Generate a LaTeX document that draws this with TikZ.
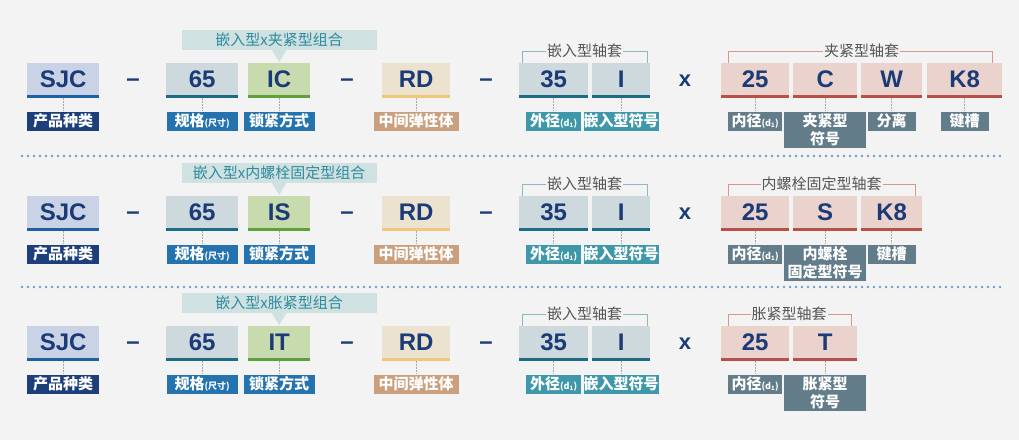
\documentclass[tikz,border=0pt]{standalone}
\usepackage{fontspec}
\setmainfont{Liberation Sans}
\newfontfamily\cjk{Noto Sans CJK SC}
\usetikzlibrary{calc}
\definecolor{bg}{HTML}{F3F3F3}
\definecolor{navy}{HTML}{1B3A78}
\definecolor{sjcfill}{HTML}{C9D3E5}
\definecolor{sjcline}{HTML}{1F5FA6}
\definecolor{specfill}{HTML}{CDD9DC}
\definecolor{specline}{HTML}{1C6C87}
\definecolor{lockfill}{HTML}{C8DBAF}
\definecolor{lockline}{HTML}{5DA03E}
\definecolor{rdfill}{HTML}{ECE2D0}
\definecolor{rdline}{HTML}{F1C879}
\definecolor{shaftfill}{HTML}{E9D3CC}
\definecolor{shaftline}{HTML}{B85048}
\definecolor{labnavy}{HTML}{1C3F7B}
\definecolor{labblue}{HTML}{2472AE}
\definecolor{labtan}{HTML}{C99F7E}
\definecolor{labteal}{HTML}{3E98A9}
\definecolor{labslate}{HTML}{627C89}
\definecolor{combofill}{HTML}{CFE1E1}
\definecolor{combotext}{HTML}{2F8B9E}
\definecolor{brkteal}{HTML}{8DB8C2}
\definecolor{brkpink}{HTML}{D8968C}
\definecolor{brktext}{HTML}{555555}
\definecolor{sepcol}{HTML}{6E9DD0}
\definecolor{conncol}{HTML}{A8A8A8}

\newcommand\sm[1]{{\fontsize{9}{9}\selectfont #1}}
\newcommand\dd{\sm{(d\textsubscript{1})}}

% code box: name, x, top, width, text, colour prefix
\newcommand\cbx[6]{%
  \node[codebox, fill=#6fill, minimum width=#4pt] (#1) at (#2,#3) {#5};
  \fill[#6line] (#1.south west) rectangle ([yshift=-3pt]#1.south east);
}
% label: box name, label name, width, fill, text
\newcommand\lbx[5]{%
  \node[labbox, fill=#4, minimum width=#3pt] (#2) at ([yshift=-16pt]#1.south) {#5};
  \draw[conn] ([yshift=-3pt]#1.south) -- (#2.north);
}
% left part of a row: suffix, top, lock code, combo text
\newcommand\leftrow[4]{%
  \cbx{sjc#1}{27}{#2}{72}{SJC}{sjc}
  \lbx{sjc#1}{lsjc#1}{72}{labnavy}{产品种类}
  \node[sym] (da#1) at (133,#2+20) {–};
  \cbx{sz#1}{166}{#2}{72}{65}{spec}
  \lbx{sz#1}{lsz#1}{71}{labblue}{规格\sm{(尺寸)}}
  \cbx{lk#1}{248}{#2}{62}{#3}{lock}
  \lbx{lk#1}{llk#1}{71}{labblue}{锁紧方式}
  \node[combo] (cb#1) at ([yshift=13pt]lk#1.north) {#4};
  \fill[combofill] ([xshift=-7.5pt,yshift=0.3pt]cb#1.south) -- ([xshift=7.5pt,yshift=0.3pt]cb#1.south) -- ([yshift=-12pt]cb#1.south) -- cycle;
  \node[sym] (db#1) at (347,#2+20) {–};
  \cbx{rd#1}{382}{#2}{68}{RD}{rd}
  \lbx{rd#1}{lrd#1}{85}{labtan}{中间弹性体}
  \node[sym] (dc#1) at (486,#2+20) {–};
  \cbx{od#1}{519}{#2}{69}{35}{spec}
  \lbx{od#1}{lod#1}{55}{labteal}{外径\dd}
  \cbx{ii#1}{592}{#2}{58}{I}{spec}
  \lbx{ii#1}{lii#1}{74}{labteal}{嵌入型符号}
  \draw[brk, brkteal] ([xshift=3pt]od#1.north west) -- ++(0,-12) -| ([xshift=-3pt]ii#1.north east);
  \node[brlab] (bl#1) at ([yshift=12pt]$(od#1.north west)!0.5!(ii#1.north east)$) {嵌入型轴套};
  \node[sym, font=\fontsize{22}{22}\selectfont\bfseries] (xx#1) at (685,#2+18) {x};
  \cbx{id#1}{721}{#2}{68}{25}{shaft}
  \lbx{id#1}{lid#1}{54}{labslate}{内径\dd}
}

\begin{document}
\begin{tikzpicture}[x=1pt,y=-1pt,
  codebox/.style={inner sep=0pt, minimum height=32pt, anchor=north west, text=navy,
    font=\fontsize{24}{24}\selectfont\bfseries},
  labbox/.style={inner xsep=0pt, inner ysep=2pt, minimum height=19pt, anchor=north, text=white,
    align=center, font=\cjk\fontsize{15}{18}\selectfont\bfseries},
  conn/.style={draw=conncol, line width=0.8pt, dash pattern=on 1.5pt off 1.5pt},
  sym/.style={inner sep=0pt, text=navy, font=\fontsize{24}{24}\selectfont\bfseries},
  combo/.style={fill=combofill, text=combotext, anchor=south, minimum width=195pt, minimum height=20pt,
    inner sep=0pt, font=\cjk\fontsize{15}{15}\selectfont},
  brk/.style={line width=1pt},
  brlab/.style={fill=bg, text=brktext, inner xsep=1pt, inner ysep=0pt, font=\cjk\fontsize{15}{15}\selectfont},
  sep/.style={draw=sepcol, line width=2.6pt, line cap=round, dash pattern=on 0pt off 6pt}]
\fill[bg] (0,0) rectangle (1019,440);
\useasboundingbox (0,0) rectangle (1019,440);

% separators
\draw[sep] (22,156) -- (1000,156);
\draw[sep] (22,287) -- (1000,287);

% row 1
\leftrow{1}{63}{IC}{嵌入型x夹紧型组合}
\cbx{cc1}{793}{63}{64}{C}{shaft}
\lbx{cc1}{lcc1}{82}{labslate}{夹紧型\\符号}
\cbx{ww1}{861}{63}{61}{W}{shaft}
\lbx{ww1}{lww1}{48}{labslate}{分离}
\cbx{kk1}{927}{63}{75}{K8}{shaft}
\lbx{kk1}{lkk1}{48}{labslate}{键槽}
\draw[brk, brkpink] ([xshift=7pt]id1.north west) -- ++(0,-12) -| ([xshift=-10pt]kk1.north east);
\node[brlab] (br1) at ([yshift=12pt]$(id1.north west)!0.5!(kk1.north east)$) {夹紧型轴套};

% row 2
\leftrow{2}{196}{IS}{嵌入型x内螺栓固定型组合}
\cbx{ss2}{793}{196}{64}{S}{shaft}
\lbx{ss2}{lss2}{82}{labslate}{内螺栓\\固定型符号}
\cbx{kk2}{861}{196}{61}{K8}{shaft}
\lbx{kk2}{lkk2}{48}{labslate}{键槽}
\draw[brk, brkpink] ([xshift=7pt]id2.north west) -- ++(0,-12) -| ([xshift=-7pt]kk2.north east);
\node[brlab] (br2) at ([yshift=12pt]$(id2.north west)!0.5!(kk2.north east)$) {内螺栓固定型轴套};

% row 3
\leftrow{3}{326}{IT}{嵌入型x胀紧型组合}
\cbx{tt3}{793}{326}{64}{T}{shaft}
\lbx{tt3}{ltt3}{82}{labslate}{胀紧型\\符号}
\draw[brk, brkpink] ([xshift=7pt]id3.north west) -- ++(0,-12) -| ([xshift=-6pt]tt3.north east);
\node[brlab] (br3) at ([yshift=12pt]$(id3.north west)!0.5!(tt3.north east)$) {胀紧型轴套};
\end{tikzpicture}
\end{document}
